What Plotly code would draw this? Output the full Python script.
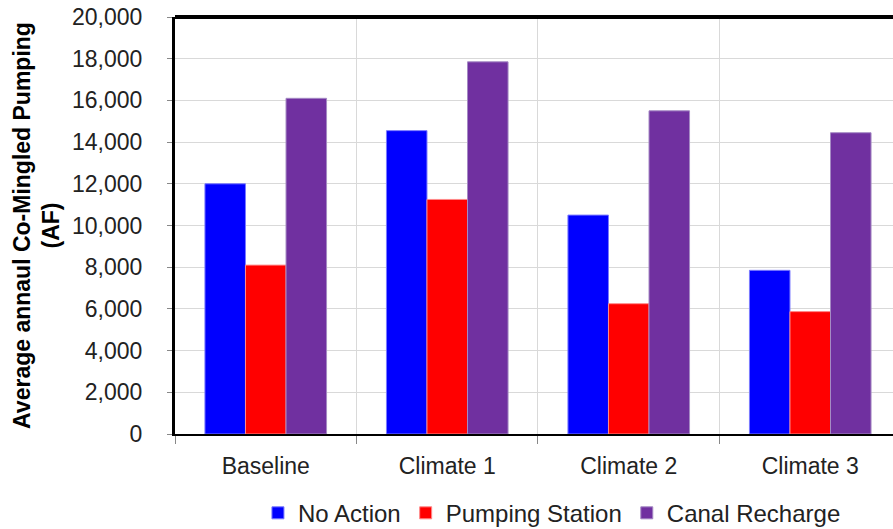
import plotly.graph_objects as go

categories = ["Baseline", "Climate 1", "Climate 2", "Climate 3"]
no_action = [12000, 14550, 10500, 7850]
pumping_station = [8100, 11250, 6250, 5870]
canal_recharge = [16100, 17850, 15500, 14450]
y_ticks = list(range(0, 20001, 2000))

FONT = "Liberation Sans"

fig = go.Figure()
for name, vals, col, edge in [
    ("No Action", no_action, "#0000FF", "#7a7aff"),
    ("Pumping Station", pumping_station, "#FF0000", "#ff8a8a"),
    ("Canal Recharge", canal_recharge, "#7030A0", "#a58ac4"),
]:
    fig.add_trace(go.Bar(x=categories, y=vals, name=name,
                         marker=dict(color=col, line=dict(color=edge, width=1))))

fig.update_layout(
    width=893, height=529,
    margin=dict(l=175, r=0, t=17, b=95, autoexpand=False),
    paper_bgcolor="white", plot_bgcolor="white",
    barmode="group", bargap=0.33, bargroupgap=0,
    font=dict(family=FONT, color="#222222"),
    showlegend=True,
    legend=dict(orientation="h", x=0.525, xanchor="center", y=-0.19, yanchor="middle",
                font=dict(size=24, family=FONT, color="#222222"),
                itemwidth=30, traceorder="normal"),
    xaxis=dict(
        type="category", range=[-0.5, 3.456], automargin=False,
        tickson="boundaries", ticks="outside", ticklen=8, tickcolor="#888888",
        showgrid=True, gridcolor="#d9d9d9", gridwidth=1,
        showline=True, linecolor="black", linewidth=2,
        tickfont=dict(size=23, family=FONT, color="#222222"),
        ticklabelstandoff=10,
    ),
    yaxis=dict(
        range=[0, 20000], tickvals=y_ticks, tickformat=",", automargin=False,
        ticklabeloverflow="allow",
        ticks="outside", ticklen=5, tickcolor="#888888",
        showgrid=True, gridcolor="#d9d9d9", gridwidth=1,
        showline=True, linecolor="black", linewidth=3,
        zeroline=False,
        tickfont=dict(size=23, family=FONT, color="#222222"),
        ticklabelstandoff=20,
        title=dict(text="<b>Average annaul Co-Mingled Pumping<br>(AF)</b>",
                   font=dict(size=23, family=FONT, color="black"), standoff=6),
    ),
)
fig.add_shape(type="line", xref="paper", yref="paper", x0=0, x1=1, y0=1, y1=1,
              line=dict(color="black", width=4))

fig.write_html("out.html", config={"displayModeBar": False},
               post_script="document.body.style.margin='0';document.body.style.overflow='hidden';")
